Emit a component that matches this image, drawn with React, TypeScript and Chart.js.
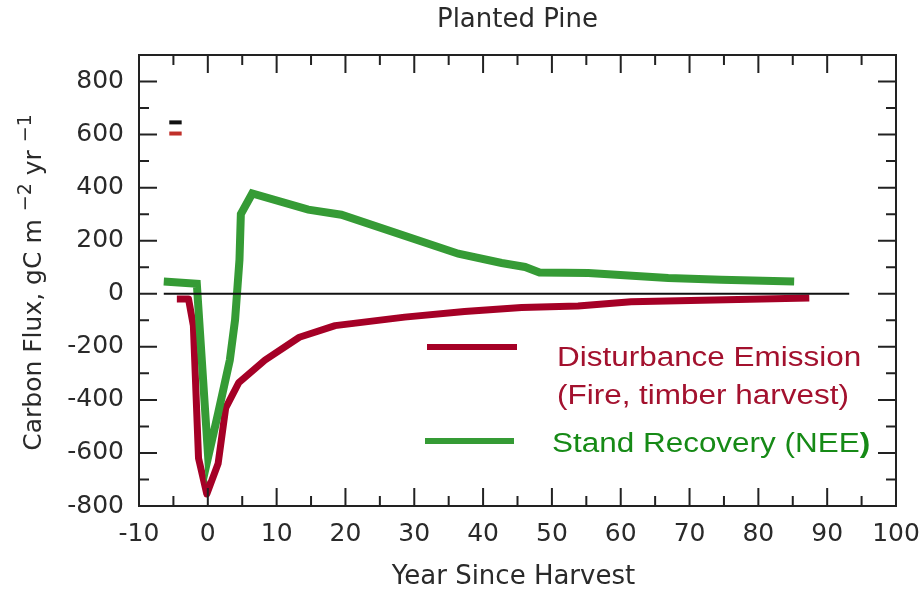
import { useEffect, useRef } from 'react';
import { Chart, registerables } from 'chart.js';

Chart.register(...registerables);

// ---- data ----
const chartTitle = 'Planted Pine';
const xAxisTitle = 'Year Since Harvest';
const yAxisTitleMain = ['Carbon Flux, gC m', ' yr'];
const yAxisTitleSup = ['\u22122', '\u22121'];

const xTickValues = [-10, 0, 10, 20, 30, 40, 50, 60, 70, 80, 90, 100];
const xMinorValues = [-5, 5, 15, 25, 35, 45, 55, 65, 75, 85, 95];
const yTickValues = [-800, -600, -400, -200, 0, 200, 400, 600, 800];
const yMinorValues = [-700, -500, -300, -100, 100, 300, 500, 700, 900];

const greenYears = [-6.4, -1.6, 0.05, 1.5, 3.2, 3.96, 4.6, 4.8, 6.45, 14.6, 19.4, 36.4, 42.7, 46.1, 48.2, 55.3, 66.9, 74.6, 85.2];
const greenVals = [46, 38, -615, -450, -250, -98, 128, 300, 378, 317, 298, 151, 116, 101, 80, 78, 59, 53, 46];

const redYears = [-4.5, -2.8, -2.1, -1.35, -0.15, 1.5, 2.6, 4.5, 8.3, 13.3, 18.5, 28.6, 37.3, 45.6, 53.8, 61.5, 87.4];
const redVals = [-20, -20, -120, -620, -755, -640, -430, -335, -250, -164, -120, -88, -67, -52, -46, -30, -16];

const zeroYears = [-6.4, 93.2];
const zeroVals = [0, 0];

const markYears = [-5.6, -3.8];
const markBlackVals = [646, 646];
const markRedVals = [604, 604];

const legendRedLines = ['Disturbance Emission', '(Fire, timber harvest)'];
const legendGreenText = 'Stand Recovery (NEE';
const legendGreenBold = ')';

const RED = '#A50026';
const GREEN = '#359B35';
const RED_TEXT = '#A3112E';
const GREEN_TEXT = '#168A16';
const INK = '#2a2a2a';
const AXIS_FONT = '"DejaVu Sans", sans-serif';
const LEGEND_FONT = '"Liberation Sans", Arial, sans-serif';

const pts = (xs: number[], ys: number[]) => xs.map((x, i) => ({ x, y: ys[i] }));

const decorPlugin = {
  id: 'decor',
  afterDatasetsDraw(chart: any) {
    const { ctx, chartArea: a, scales } = chart;
    const x = scales.x;
    const y = scales.y;
    ctx.save();
    ctx.strokeStyle = '#222';
    ctx.lineWidth = 2;
    ctx.strokeRect(a.left, a.top, a.right - a.left, a.bottom - a.top);
    ctx.beginPath();
    const major = 18;
    const minor = 10;
    xTickValues.forEach((v) => {
      const p = x.getPixelForValue(v);
      ctx.moveTo(p, a.bottom); ctx.lineTo(p, a.bottom - major);
      ctx.moveTo(p, a.top); ctx.lineTo(p, a.top + major);
    });
    xMinorValues.forEach((v) => {
      const p = x.getPixelForValue(v);
      ctx.moveTo(p, a.bottom); ctx.lineTo(p, a.bottom - minor);
      ctx.moveTo(p, a.top); ctx.lineTo(p, a.top + minor);
    });
    yTickValues.forEach((v) => {
      const p = y.getPixelForValue(v);
      ctx.moveTo(a.left, p); ctx.lineTo(a.left + major, p);
      ctx.moveTo(a.right, p); ctx.lineTo(a.right - major, p);
    });
    yMinorValues.forEach((v) => {
      const p = y.getPixelForValue(v);
      ctx.moveTo(a.left, p); ctx.lineTo(a.left + minor, p);
      ctx.moveTo(a.right, p); ctx.lineTo(a.right - minor, p);
    });
    ctx.stroke();
    ctx.restore();
  },
  afterDraw(chart: any) {
    const { ctx, chartArea: a } = chart;
    const cx = (a.left + a.right) / 2;
    const cy = (a.top + a.bottom) / 2;
    ctx.save();
    ctx.fillStyle = INK;
    ctx.textAlign = 'center';
    ctx.textBaseline = 'middle';
    ctx.font = `26px ${AXIS_FONT}`;
    ctx.fillText(chartTitle, cx, 20);
    ctx.fillText(xAxisTitle, cx - 4, 577);

    // rotated y title with superscripts
    const mainFont = `25px ${AXIS_FONT}`;
    const supFont = `19px ${AXIS_FONT}`;
    const gap = 8;
    ctx.font = mainFont;
    const w0 = ctx.measureText(yAxisTitleMain[0]).width;
    const w1 = ctx.measureText(yAxisTitleMain[1]).width;
    ctx.font = supFont;
    const s0 = ctx.measureText(yAxisTitleSup[0]).width;
    const s1 = ctx.measureText(yAxisTitleSup[1]).width;
    const total = w0 + gap + s0 + w1 + gap + s1;
    ctx.translate(41, cy + 2);
    ctx.rotate(-Math.PI / 2);
    ctx.textAlign = 'left';
    ctx.textBaseline = 'alphabetic';
    let pos = -total / 2;
    ctx.font = mainFont;
    ctx.fillText(yAxisTitleMain[0], pos, 0);
    pos += w0 + gap;
    ctx.font = supFont;
    ctx.fillText(yAxisTitleSup[0], pos, -10);
    pos += s0;
    ctx.font = mainFont;
    ctx.fillText(yAxisTitleMain[1], pos, 0);
    pos += w1 + gap;
    ctx.font = supFont;
    ctx.fillText(yAxisTitleSup[1], pos, -10);
    ctx.restore();

    // legend
    const sx = 1.165;
    const ds = chart.data.datasets;
    const redDs = ds.find((d: any) => d.label === legendRedLines[0]);
    const greenDs = ds.find((d: any) => d.label === legendGreenText + legendGreenBold);
    ctx.save();
    ctx.lineWidth = 6;
    ctx.lineCap = 'butt';
    ctx.strokeStyle = redDs.borderColor;
    ctx.beginPath(); ctx.moveTo(427, 347); ctx.lineTo(517, 347); ctx.stroke();
    ctx.strokeStyle = greenDs.borderColor;
    ctx.beginPath(); ctx.moveTo(425, 441); ctx.lineTo(514, 441); ctx.stroke();
    ctx.textAlign = 'left';
    ctx.textBaseline = 'alphabetic';
    const drawStretched = (t: string, px: number, py: number, font: string, color: string) => {
      ctx.save();
      ctx.font = font;
      ctx.fillStyle = color;
      ctx.translate(px, py);
      ctx.scale(sx, 1);
      ctx.fillText(t, 0, 0);
      const w = ctx.measureText(t).width * sx;
      ctx.restore();
      return w;
    };
    const lf = `27px ${LEGEND_FONT}`;
    drawStretched(legendRedLines[0], 557, 366, lf, RED_TEXT);
    drawStretched(legendRedLines[1], 557, 404, lf, RED_TEXT);
    const gw = drawStretched(legendGreenText, 552, 452, lf, GREEN_TEXT);
    drawStretched(legendGreenBold, 552 + gw, 452, `bold 27px ${LEGEND_FONT}`, GREEN_TEXT);
    ctx.restore();
  },
};

export default function App() {
  const ref = useRef<HTMLCanvasElement | null>(null);
  useEffect(() => {
    if (!ref.current) return;
    const tickFont = { family: AXIS_FONT, size: 25 };
    const chart = new Chart(ref.current, {
      type: 'line',
      data: {
        datasets: [
          { label: 'zero', data: pts(zeroYears, zeroVals), borderColor: '#111111', borderWidth: 2, pointRadius: 0 },
          { label: legendGreenText + legendGreenBold, data: pts(greenYears, greenVals), borderColor: GREEN, borderWidth: 8, pointRadius: 0, borderJoinStyle: 'miter', borderCapStyle: 'butt' },
          { label: legendRedLines[0], data: pts(redYears, redVals), borderColor: RED, borderWidth: 7, pointRadius: 0, borderJoinStyle: 'round', borderCapStyle: 'butt' },
          { label: 'markBlack', data: pts(markYears, markBlackVals), borderColor: '#111111', borderWidth: 4, pointRadius: 0 },
          { label: 'markRed', data: pts(markYears, markRedVals), borderColor: '#C0302A', borderWidth: 4, pointRadius: 0 },
        ],
      } as any,
      options: {
        animation: false,
        responsive: false,
        devicePixelRatio: 1,
        layout: { padding: { top: 55, right: 26, left: 0, bottom: 0 } },
        plugins: { legend: { display: false }, tooltip: { enabled: false }, title: { display: false } },
        scales: {
          x: {
            type: 'linear',
            min: -10,
            max: 100,
            grid: { display: false, drawTicks: false },
            border: { display: false },
            ticks: { font: tickFont, color: INK, padding: 13, maxRotation: 0, autoSkip: false },
            afterBuildTicks: (s: any) => { s.ticks = xTickValues.map((v) => ({ value: v })); },
            afterFit: (s: any) => { s.height = 84; s.paddingLeft = 0; s.paddingRight = 0; },
          },
          y: {
            type: 'linear',
            min: -800,
            max: 900,
            grid: { display: false, drawTicks: false },
            border: { display: false },
            ticks: { font: tickFont, color: INK, padding: 15, autoSkip: false },
            afterBuildTicks: (s: any) => { s.ticks = yTickValues.map((v) => ({ value: v })); },
            afterFit: (s: any) => { s.width = 139; s.paddingTop = 0; s.paddingBottom = 0; },
          },
        },
      } as any,
      plugins: [decorPlugin],
    });
    return () => chart.destroy();
  }, []);
  return (
    <div style={{ position: 'fixed', left: 0, top: 0, width: 922, height: 590, background: '#fff' }}>
      <canvas ref={ref} width={922} height={590} style={{ display: 'block', width: 922, height: 590 }} />
    </div>
  );
}
